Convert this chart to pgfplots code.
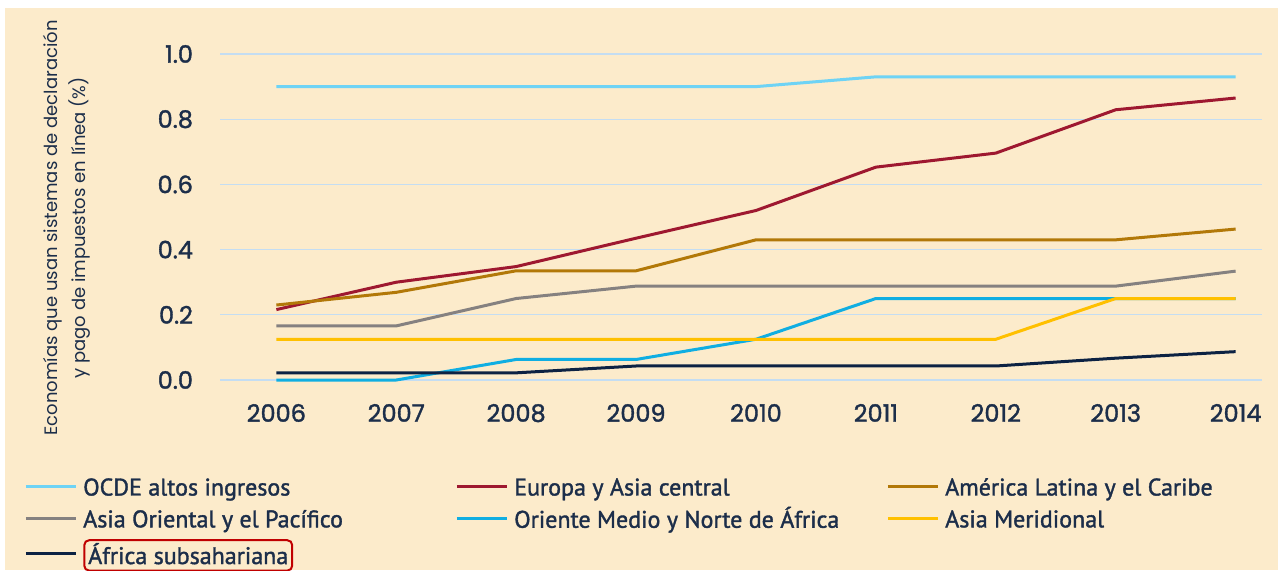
\documentclass[border=0pt]{standalone}
\usepackage{pgfplots}
\pgfplotsset{compat=1.18}
\usepackage{fontspec}
\setmainfont{Poppins}
\newfontfamily\legfont[FakeBold=1.5]{PT Sans}
\newfontfamily\tickfont[FakeBold=1.5]{Poppins}
\definecolor{bg}{HTML}{FCEBCB}
\definecolor{navy}{HTML}{1C2E4A}
\definecolor{gridc}{HTML}{C4DDF2}
\definecolor{cOCDE}{HTML}{6ED3F5}
\definecolor{cEUR}{HTML}{9E1830}
\definecolor{cLAT}{HTML}{B27808}
\definecolor{cASO}{HTML}{858180}
\definecolor{cOMN}{HTML}{10AEE2}
\definecolor{cASM}{HTML}{FFC000}
\definecolor{cAFR}{HTML}{0C2243}
\definecolor{boxred}{HTML}{C00000}
\newcommand{\legent}[1]{\makebox[183pt][l]{\rule[-4pt]{0pt}{14pt}#1}}
\begin{document}
\begin{tikzpicture}
\path[use as bounding box] (0pt,0pt) rectangle (639pt,285pt);
\fill[white] (0pt,0pt) rectangle (639pt,285pt);
\fill[bg] (2.5pt,0pt) rectangle (639pt,281pt);
\begin{axis}[
  at={(110pt,95pt)}, anchor=south west,
  scale only axis, width=521pt, height=163pt,
  xmin=2005.53, xmax=2014.22, ymin=0, ymax=1,
  clip=false,
  axis line style={draw=none},
  major tick style={draw=none},
  ymajorgrids, grid style={gridc, line width=0.6pt},
  xtick={2006,2007,2008,2009,2010,2011,2012,2013,2014},
  xticklabels={2006,2007,2008,2009,2010,2011,2012,2013,2014},
  ytick={0,0.2,0.4,0.6,0.8,1},
  yticklabels={0.0,0.2,0.4,0.6,0.8,1.0},
  ticklabel style={font=\tickfont\fontsize{12}{14}\selectfont, text=navy},
  yticklabel style={xshift=-10pt},
  xticklabel style={yshift=-8.5pt},
  every axis plot/.append style={line width=1.5pt, no markers},
  legend columns=3,
  legend cell align=left,
  legend image code/.code={\draw[#1] (0pt,0pt) -- (25pt,0pt);},
  legend style={at={(-0.194,-0.272)}, anchor=north west, draw=none, fill=none,
    font=\legfont\fontsize{12}{14}\selectfont, text=navy,
    column sep=0pt, row sep=1.8pt, nodes={inner ysep=1.2pt, inner xsep=3pt}},
]
\addplot[cOCDE] coordinates {(2006,0.90)(2007,0.90)(2008,0.90)(2009,0.90)(2010,0.90)(2011,0.93)(2012,0.93)(2013,0.93)(2014,0.93)};
\addlegendentry{\legent{OCDE altos ingresos}}
\addplot[cEUR] coordinates {(2006,0.216)(2007,0.30)(2008,0.348)(2009,0.435)(2010,0.52)(2011,0.653)(2012,0.696)(2013,0.829)(2014,0.865)};
\addlegendentry{\legent{Europa y Asia central}}
\addplot[cLAT] coordinates {(2006,0.23)(2007,0.269)(2008,0.335)(2009,0.335)(2010,0.43)(2011,0.43)(2012,0.43)(2013,0.43)(2014,0.463)};
\addlegendentry{\legent{América Latina y el Caribe}}
\addplot[cASO] coordinates {(2006,0.166)(2007,0.166)(2008,0.25)(2009,0.288)(2010,0.288)(2011,0.288)(2012,0.288)(2013,0.288)(2014,0.334)};
\addlegendentry{\legent{Asia Oriental y el Pacífico}}
\addplot[cOMN] coordinates {(2006,0.0)(2007,0.0)(2008,0.063)(2009,0.063)(2010,0.125)(2011,0.25)(2012,0.25)(2013,0.25)(2014,0.25)};
\addlegendentry{\legent{Oriente Medio y Norte de África}}
\addplot[cASM] coordinates {(2006,0.125)(2007,0.125)(2008,0.125)(2009,0.125)(2010,0.125)(2011,0.125)(2012,0.125)(2013,0.25)(2014,0.25)};
\addlegendentry{\legent{Asia Meridional}}
\addplot[cAFR] coordinates {(2006,0.022)(2007,0.022)(2008,0.022)(2009,0.043)(2010,0.043)(2011,0.043)(2012,0.043)(2013,0.067)(2014,0.087)};
\addlegendentry{\legent{\tikz[baseline=(t.base)]\node[draw=boxred,rounded corners=2.5pt,line width=1pt,inner xsep=2pt,inner ysep=1.5pt](t){África subsahariana};}}
\end{axis}
\node[rotate=90, align=center, font=\fontsize{9}{14}\selectfont, text=navy] at (33.5pt,171pt)
  {Economías que usan sistemas de declaración\\y pago de impuestos en línea (\%)};
\end{tikzpicture}
\end{document}
